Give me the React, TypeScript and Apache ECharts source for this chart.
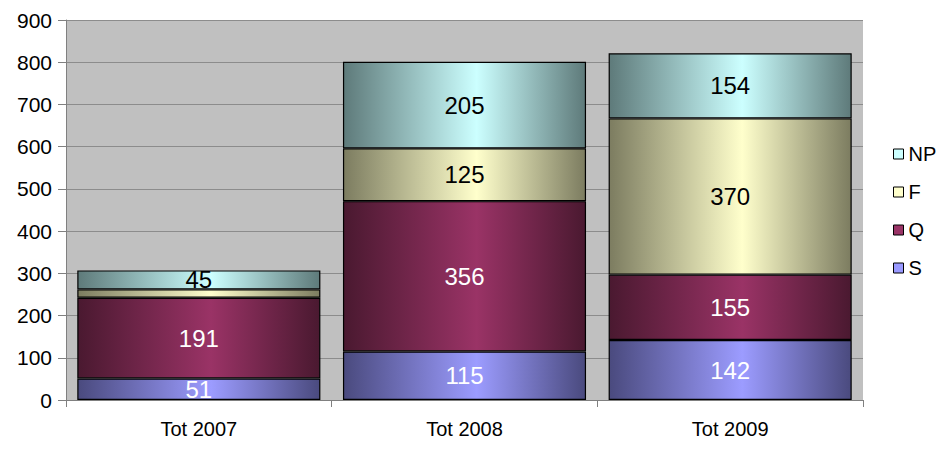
import React, { useEffect, useRef } from "react";
import * as echarts from "echarts";

const categories = ["Tot 2007", "Tot 2008", "Tot 2009"];
const seriesNames = ["S", "Q", "F", "NP"];
const sValues = [51, 115, 142];
const qValues = [191, 356, 155];
const fValues = [20, 125, 370];
const npValues = [45, 205, 154];
const yTicks = { min: 0, max: 900, interval: 100 };

const palette: Record<string, { edge: string; mid: string; flat: string; text: string }> = {
  S: { edge: "#4a4a7e", mid: "#9c9cff", flat: "#9999ff", text: "#ffffff" },
  Q: { edge: "#4a1930", mid: "#9a3366", flat: "#993366", text: "#ffffff" },
  F: { edge: "#7c7c60", mid: "#ffffcc", flat: "#ffffcc", text: "#000000" },
  NP: { edge: "#5e7a7a", mid: "#ccffff", flat: "#ccffff", text: "#000000" },
};

function grad(name: string) {
  const p = palette[name];
  return new echarts.graphic.LinearGradient(0, 0, 1, 0, [
    { offset: 0, color: p.edge },
    { offset: 0.55, color: p.mid },
    { offset: 1, color: p.edge },
  ]);
}

export default function App() {
  const ref = useRef<HTMLDivElement>(null);
  useEffect(() => {
    document.body.style.margin = "0";
    const chart = echarts.init(ref.current!, null, { renderer: "svg" });
    const dataMap: Record<string, number[]> = { S: sValues, Q: qValues, F: fValues, NP: npValues };
    const font = "'Liberation Sans', Arial, sans-serif";
    chart.setOption({
      animation: false,
      backgroundColor: "#ffffff",
      grid: { left: 66, right: 79, top: 20, bottom: 52, show: true, backgroundColor: "#c0c0c0", borderWidth: 0 },
      legend: {
        orient: "vertical",
        left: 888,
        top: 139,
        itemWidth: 10,
        itemHeight: 10,
        itemGap: 18,
        icon: "rect",
        textStyle: { fontFamily: font, fontSize: 20, color: "#000" },
        data: ["NP", "F", "Q", "S"].map((n) => ({
          name: n,
          itemStyle: { color: palette[n].flat, borderColor: "#000", borderWidth: 1 },
        })),
      },
      xAxis: {
        type: "category",
        data: categories,
        axisLine: { lineStyle: { color: "#808080", width: 1 } },
        axisTick: { show: true, length: 7, lineStyle: { color: "#808080" } },
        axisLabel: { fontFamily: font, fontSize: 20, color: "#000", margin: 19 },
      },
      yAxis: {
        type: "value",
        min: yTicks.min,
        max: yTicks.max,
        interval: yTicks.interval,
        axisLine: { show: true, lineStyle: { color: "#808080" } },
        axisTick: { show: true, length: 8, lineStyle: { color: "#808080" } },
        splitLine: { lineStyle: { color: "#8c8c8c", width: 1 } },
        axisLabel: { fontFamily: font, fontSize: 21, color: "#000", margin: 14 },
      },
      series: seriesNames.map((n) => ({
        name: n,
        type: "bar",
        stack: "total",
        barCategoryGap: "8.5%",
        data: dataMap[n],
        itemStyle: { color: grad(n), borderColor: "#000", borderWidth: 1.2 },
        label: {
          show: true,
          position: "inside",
          fontFamily: font,
          fontSize: 24,
          color: palette[n].text,
          formatter: (p: any) => (p.value < 30 ? "" : String(p.value)),
        },
      })),
    });
    return () => chart.dispose();
  }, []);
  return <div ref={ref} style={{ width: 942, height: 452 }} />;
}
